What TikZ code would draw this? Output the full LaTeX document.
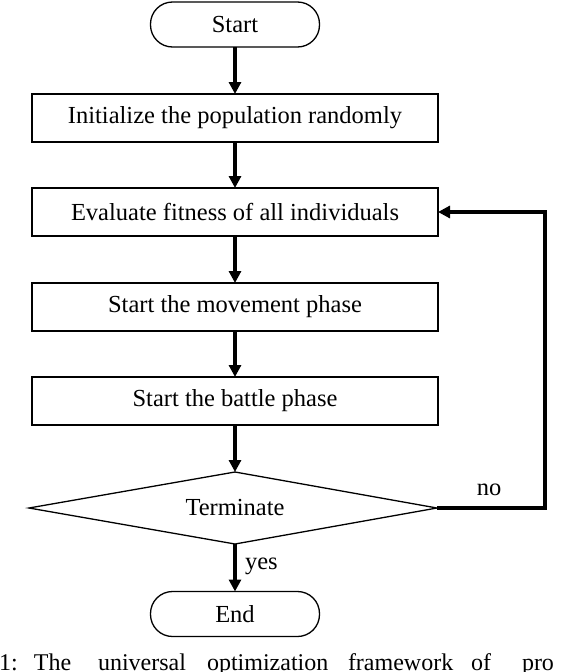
\documentclass[tikz,border=0pt]{standalone}
\usepackage{fontspec}
\setmainfont{Liberation Serif}
\usetikzlibrary{shapes.geometric,arrows.meta}
\begin{document}
\begin{tikzpicture}[x=1pt,y=-1pt,
  every node/.style={font=\fontsize{24.5}{28}\selectfont, inner sep=0pt, outer sep=0pt},
  procbox/.style={draw, line width=1.3pt, minimum width=406pt, minimum height=48pt},
  termbox/.style={draw, line width=1.3pt, rounded corners=22pt, minimum width=169pt, minimum height=45pt},
  decline/.style={draw, line width=1.3pt, line join=miter},
  flow/.style={line width=3.3pt, -{Triangle[length=12pt,width=12pt]}},
  lbl/.style={font=\fontsize{24.5}{28}\selectfont},
  captext/.style={font=\fontsize{24}{28}\selectfont, anchor=base west}
]
\useasboundingbox (0,0) rectangle (568,672);
\node[termbox] (start) at (235,24.5) {Start};
\node[procbox] (init) at (235,118) {Initialize the population randomly};
\node[procbox] (eval) at (235,212) {Evaluate fitness of all individuals};
\node[procbox] (move) at (235,307) {Start the movement phase};
\node[procbox] (battle) at (235,401) {Start the battle phase};
\coordinate (dt) at (235,472);
\coordinate (db) at (235,544);
\coordinate (dl) at (29,508);
\coordinate (dr) at (437,508);
\draw[decline] (dt) -- (dr) -- (db) -- (dl) -- cycle;
\node (dec) at (235,508) {Terminate};
\node[termbox] (end) at (235,614) {End};
\coordinate (fbx) at (545,0);
\draw[flow] (start) -- (init);
\draw[flow] (init) -- (eval);
\draw[flow] (eval) -- (move);
\draw[flow] (move) -- (battle);
\draw[flow] (battle.south) -- (dt);
\draw[flow] (db) -- (end.north);
\draw[flow] (dr) -- (dr -| fbx) -- (eval.east -| fbx) -- (eval.east);
\node[lbl] (no) at (489,490) {no};
\node[lbl, anchor=west] (yes) at (245,566) {yes};
\begin{scope}
\clip (0,0) rectangle (568,672);
\node[captext] (c1) at (-1,670) {1:};
\node[captext] (c2) at (34,670) {The};
\node[captext] (c3) at (98,670) {universal};
\node[captext] (c4) at (207,670) {optimization};
\node[captext] (c5) at (348,670) {framework};
\node[captext] (c6) at (471,670) {of};
\node[captext] (c7) at (522,670) {pro};
\end{scope}
\end{tikzpicture}
\end{document}
